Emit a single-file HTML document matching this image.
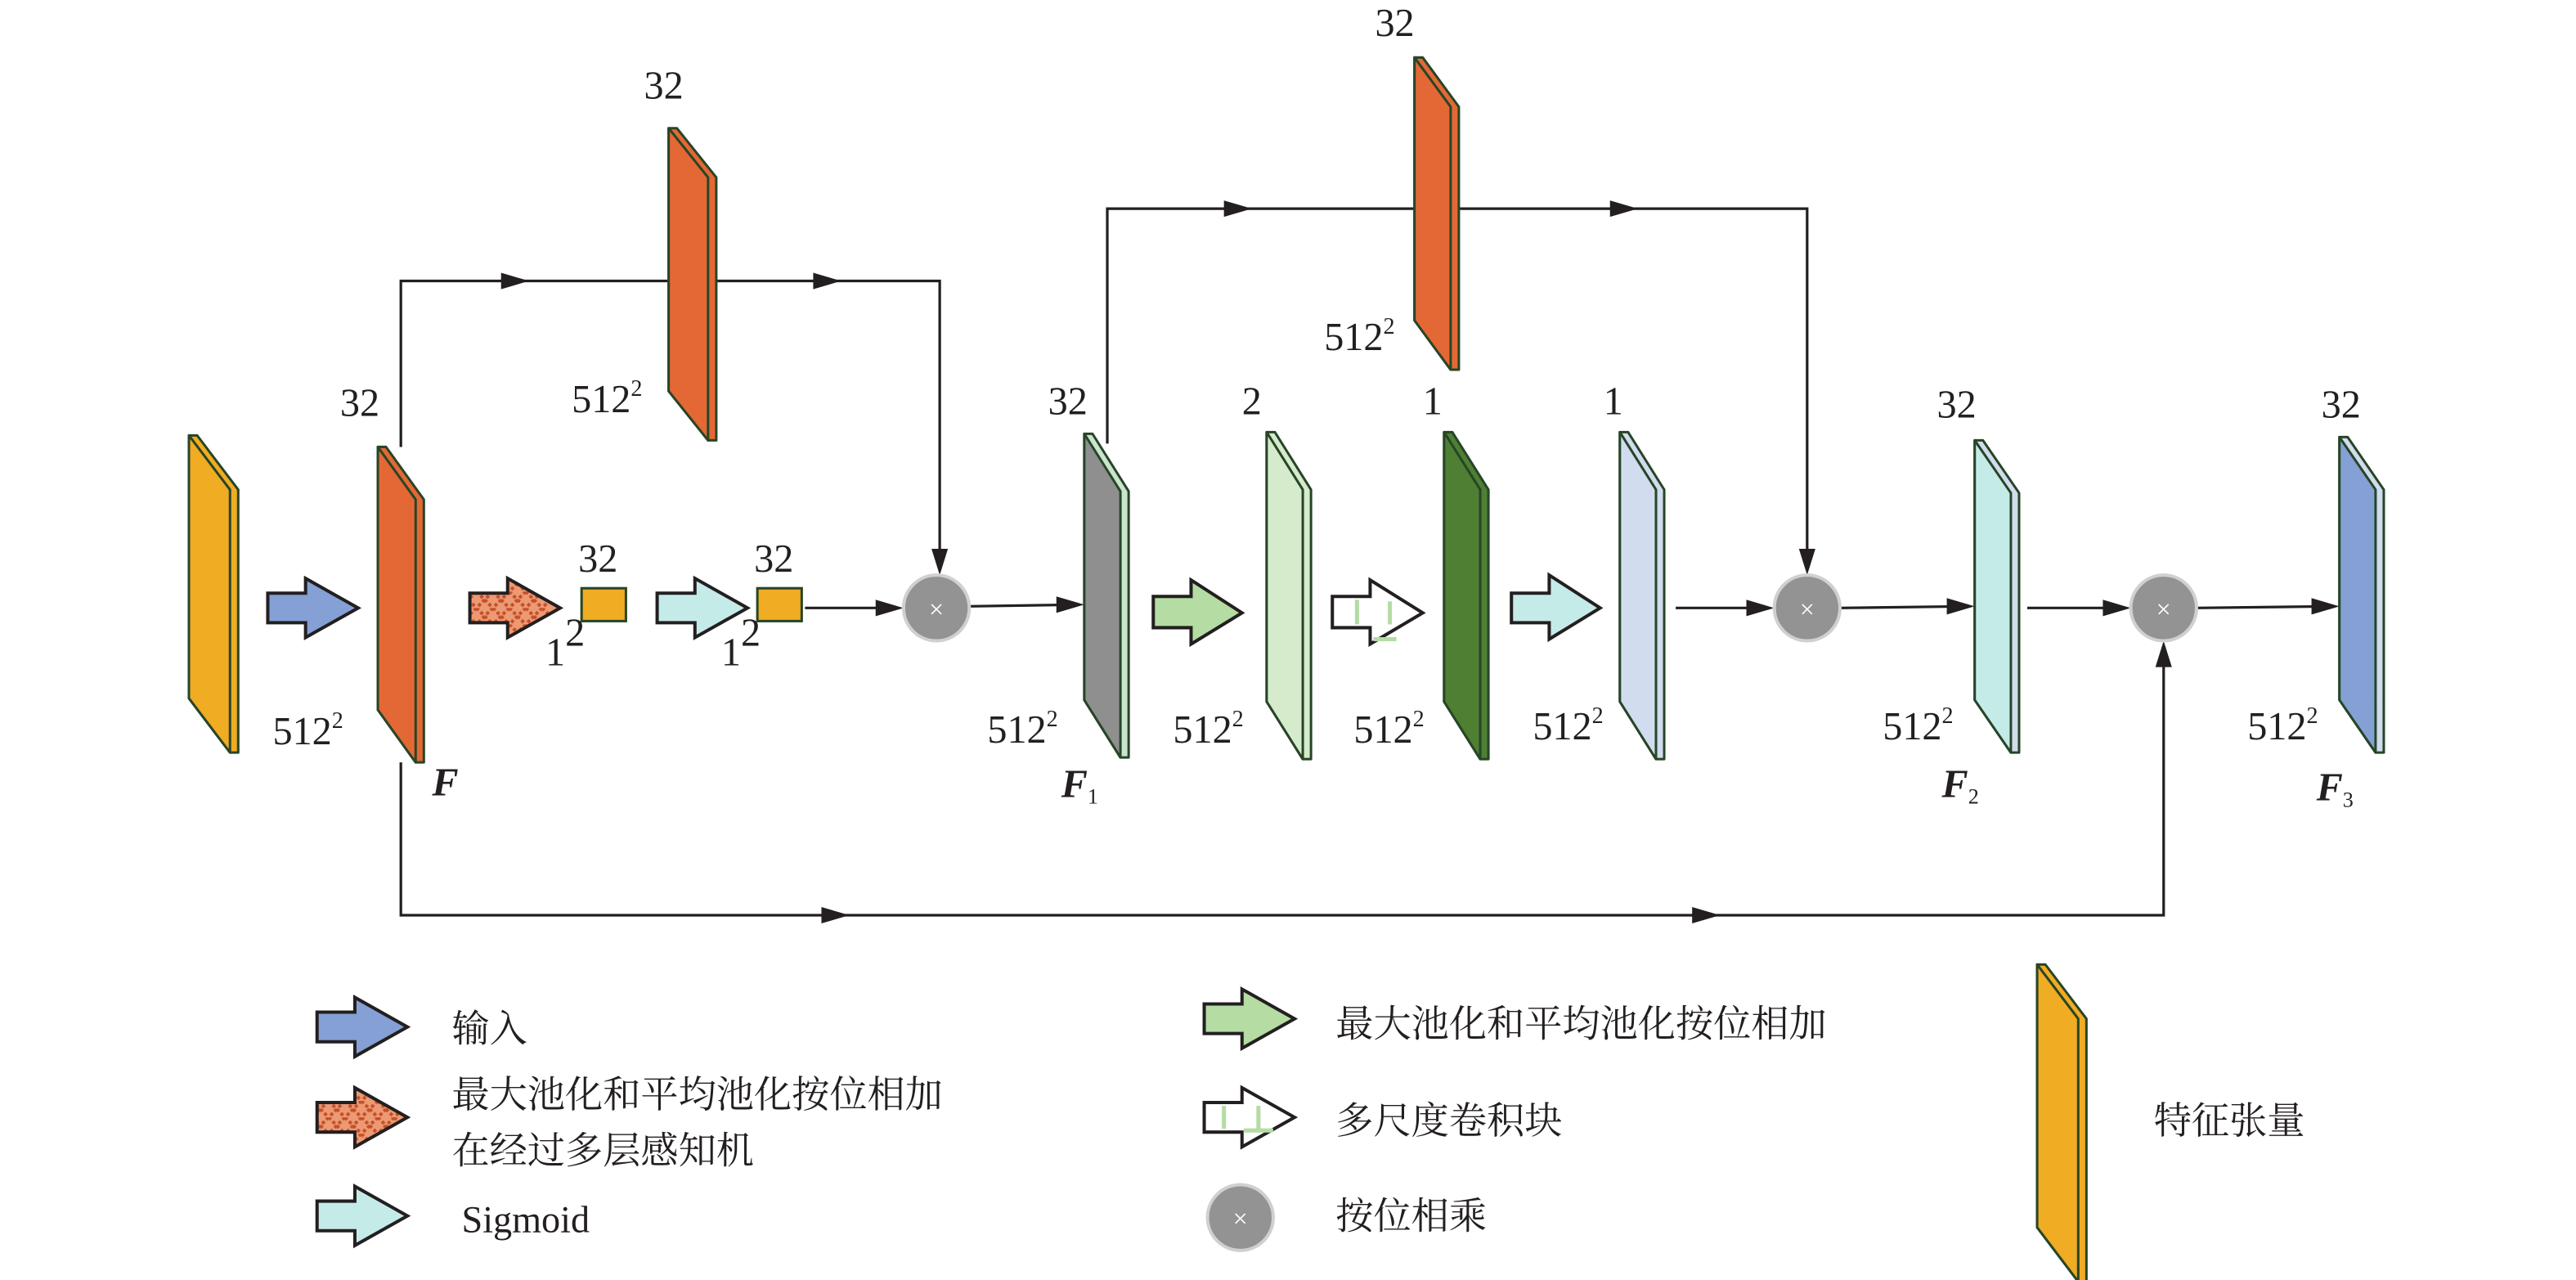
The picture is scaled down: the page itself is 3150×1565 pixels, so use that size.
<!DOCTYPE html>
<html><head><meta charset="utf-8"><style>
html,body{margin:0;padding:0;background:#fff;}
svg{display:block;}
text{font-family:"Liberation Serif","Noto Serif CJK SC",serif;fill:#231f20;}
.cn{font-family:"Liberation Serif","Noto Serif CJK SC","Noto Sans CJK SC",serif;}
</style></head><body>
<svg width="3150" height="1565" viewBox="0 0 1568 779" preserveAspectRatio="none" xmlns="http://www.w3.org/2000/svg">
<defs>
<symbol id="slab" overflow="visible">
</symbol>
<pattern id="hatch" width="10" height="10" patternUnits="userSpaceOnUse">
<rect width="10" height="10" fill="#ec9a73"/>
<path d="M0,0 L10,10 M10,0 L0,10" stroke="#c4502a" stroke-width="2" stroke-dasharray="2,1.5"/>
</pattern>
</defs>

<!-- connectors -->
<g stroke="#231f20" stroke-width="1.6" fill="none">
<polyline points="244,272 244,171 572,171 572,345"/>
<polyline points="674,270 674,127 1100,127 1100,345"/>
<polyline points="244,464 244,557 1317,557 1317,395"/>
<line x1="490" y1="370" x2="545" y2="370"/>
<line x1="590" y1="369" x2="655" y2="368"/>
<line x1="1020" y1="370" x2="1075" y2="370"/>
<line x1="1120" y1="370" x2="1197" y2="369"/>
<line x1="1234" y1="370" x2="1292" y2="370"/>
<line x1="1337" y1="370" x2="1420" y2="369"/>
</g>
<g fill="#231f20">
<polygon points="305,166 322,171 305,176"/>
<polygon points="495,166 512,171 495,176"/>
<polygon points="567,334 572,350 577,334"/>
<polygon points="745,122 762,127 745,132"/>
<polygon points="980,122 997,127 980,132"/>
<polygon points="1095,334 1100,350 1105,334"/>
<polygon points="500,552 517,557 500,562"/>
<polygon points="1030,552 1047,557 1030,562"/>
<polygon points="1312,406 1317,390 1322,406"/>
<polygon points="533,365 550,370 533,375"/>
<polygon points="643,363 660,368 643,373"/>
<polygon points="1063,365 1080,370 1063,375"/>
<polygon points="1185,364 1202,369 1185,374"/>
<polygon points="1280,365 1297,370 1280,375"/>
<polygon points="1407,364 1424,369 1407,374"/>
</g>

<!-- slabs -->
<g stroke="#274527" stroke-width="1.5" stroke-linejoin="round">
<g transform="translate(115,265)"><polygon points="0,0 5,0 30,33 30,193 25,193 0,160" fill="#f0ac22"/><polygon points="0,0 25,33 25,193 0,160" fill="#f0ac22"/></g>
<g transform="translate(230,272)"><polygon points="0,0 5,0 28,32 28,192 23,192 0,160" fill="#e46835"/><polygon points="0,0 23,32 23,192 0,160" fill="#e46835"/></g>
<g transform="translate(407,78)"><polygon points="0,0 5,0 29,30 29,190 24,190 0,160" fill="#e46835"/><polygon points="0,0 24,30 24,190 0,160" fill="#e46835"/></g>
<g transform="translate(861,35)"><polygon points="0,0 5,0 27,30 27,190 22,190 0,160" fill="#e46835"/><polygon points="0,0 22,30 22,190 0,160" fill="#e46835"/></g>
<g transform="translate(660,264)"><polygon points="0,0 5,0 27,35 27,197 22,197 0,162" fill="#c9e5cf"/><polygon points="0,0 22,35 22,197 0,162" fill="#8f8f8f"/></g>
<g transform="translate(771,263)"><polygon points="0,0 5,0 27,35 27,199 22,199 0,164" fill="#d5ebcb"/><polygon points="0,0 22,35 22,199 0,164" fill="#d5ebcb"/></g>
<g transform="translate(879,263)"><polygon points="0,0 5,0 27,35 27,199 22,199 0,164" fill="#4e7f33"/><polygon points="0,0 22,35 22,199 0,164" fill="#4e7f33"/></g>
<g transform="translate(986,263)"><polygon points="0,0 5,0 27,35 27,199 22,199 0,164" fill="#d1dcee"/><polygon points="0,0 22,35 22,199 0,164" fill="#d1dcee"/></g>
<g transform="translate(1202,268)"><polygon points="0,0 5,0 27,32 27,190 22,190 0,158" fill="#d1dcee"/><polygon points="0,0 22,32 22,190 0,158" fill="#c5ebe9"/></g>
<g transform="translate(1424,266)"><polygon points="0,0 5,0 27,32 27,192 22,192 0,160" fill="#d1dcee"/><polygon points="0,0 22,32 22,192 0,160" fill="#84a0d4"/></g>
<g transform="translate(1240,587)"><polygon points="0,0 5,0 30,33 30,193 25,193 0,160" fill="#f0ac22"/><polygon points="0,0 25,33 25,193 0,160" fill="#f0ac22"/></g>
</g>

<!-- small squares -->
<rect x="354" y="358" width="27" height="20" fill="#f0ac22" stroke="#274527" stroke-width="1.5"/>
<rect x="461" y="358" width="27" height="20" fill="#f0ac22" stroke="#274527" stroke-width="1.5"/>

<!-- block arrows -->
<g stroke="#231f20" stroke-width="2" stroke-linejoin="miter">
<path d="M163,361 L186,361 L186,352 L218,370 L186,388 L186,379 L163,379 Z" fill="#84a0d4"/>
<path d="M286,361 L309,361 L309,352 L341,370 L309,388 L309,379 L286,379 Z" fill="url(#hatch)"/>
<path d="M400,361 L423,361 L423,352 L455,370 L423,388 L423,379 L400,379 Z" fill="#c5ebe9"/>
<path d="M702,363 L725,363 L725,353 L756,373 L725,392 L725,382 L702,382 Z" fill="#b4dca3"/>
<path d="M811,363 L834,363 L834,353 L866,373 L834,392 L834,382 L811,382 Z" fill="#fff"/>
<path d="M920,361 L943,361 L943,350 L974,370 L943,389 L943,379 L920,379 Z" fill="#c5ebe9"/>
<path d="M193,616 L216,616 L216,607 L248,625 L216,643 L216,634 L193,634 Z" fill="#84a0d4"/>
<path d="M193,671 L216,671 L216,662 L248,680 L216,698 L216,689 L193,689 Z" fill="url(#hatch)"/>
<path d="M193,731 L216,731 L216,722 L248,740 L216,758 L216,749 L193,749 Z" fill="#c5ebe9"/>
<path d="M733,611 L756,611 L756,602 L788,620 L756,638 L756,629 L733,629 Z" fill="#b4dca3"/>
<path d="M733,671 L756,671 L756,662 L788,680 L756,698 L756,689 L733,689 Z" fill="#fff"/>
</g>
<g stroke="#b4dca3" stroke-width="2.5">
<line x1="826" y1="365" x2="826" y2="380"/><line x1="846" y1="366" x2="846" y2="380"/><line x1="836" y1="389" x2="850" y2="389"/>
<line x1="745" y1="673" x2="745" y2="687"/><line x1="766" y1="673" x2="766" y2="687"/><line x1="757" y1="688" x2="775" y2="688"/>
</g>

<!-- circles -->
<g fill="#939393" stroke="#d0d0d0" stroke-width="2">
<circle cx="570" cy="370" r="20"/><circle cx="1100" cy="370" r="20"/><circle cx="1317" cy="370" r="20"/><circle cx="755" cy="741" r="20"/>
</g>
<g fill="#fff" font-size="16" text-anchor="middle">
<text x="570" y="376" style="fill:#fff">×</text><text x="1100" y="376" style="fill:#fff">×</text><text x="1317" y="376" style="fill:#fff">×</text><text x="755" y="747" style="fill:#fff">×</text>
</g>

<!-- labels -->
<g font-size="24">
<text x="207" y="253">32</text>
<text x="392" y="60">32</text>
<text x="837" y="22">32</text>
<text x="638" y="252">32</text>
<text x="756" y="252">2</text>
<text x="866" y="252">1</text>
<text x="976" y="252">1</text>
<text x="1179" y="254">32</text>
<text x="1413" y="254">32</text>
<text x="352" y="348">32</text>
<text x="459" y="348">32</text>
<text x="332" y="405">1<tspan dy="-12">2</tspan></text>
<text x="439" y="405">1<tspan dy="-12">2</tspan></text>
<text x="166" y="453">512<tspan font-size="14" dy="-10">2</tspan></text>
<text x="348" y="251">512<tspan font-size="14" dy="-10">2</tspan></text>
<text x="806" y="213">512<tspan font-size="14" dy="-10">2</tspan></text>
<text x="601" y="452">512<tspan font-size="14" dy="-10">2</tspan></text>
<text x="714" y="452">512<tspan font-size="14" dy="-10">2</tspan></text>
<text x="824" y="452">512<tspan font-size="14" dy="-10">2</tspan></text>
<text x="933" y="450">512<tspan font-size="14" dy="-10">2</tspan></text>
<text x="1146" y="450">512<tspan font-size="14" dy="-10">2</tspan></text>
<text x="1368" y="450">512<tspan font-size="14" dy="-10">2</tspan></text>
<text x="263" y="484" font-style="italic" font-weight="bold">F</text>
<text x="646" y="485" font-style="italic" font-weight="bold">F<tspan font-size="13" font-style="normal" font-weight="normal" dy="4">1</tspan></text>
<text x="1182" y="485" font-style="italic" font-weight="bold">F<tspan font-size="13" font-style="normal" font-weight="normal" dy="4">2</tspan></text>
<text x="1410" y="487" font-style="italic" font-weight="bold">F<tspan font-size="13" font-style="normal" font-weight="normal" dy="4">3</tspan></text>
</g>
<g font-size="23" class="cn">
<text class="cn" x="275" y="634">输入</text>
<text class="cn" x="275" y="674">最大池化和平均池化按位相加</text>
<text class="cn" x="275" y="708">在经过多层感知机</text>
<text x="281" y="750">Sigmoid</text>
<text class="cn" x="813" y="631">最大池化和平均池化按位相加</text>
<text class="cn" x="813" y="690">多尺度卷积块</text>
<text class="cn" x="813" y="748">按位相乘</text>
<text class="cn" x="1311" y="690">特征张量</text>
</g>
</svg>
</body></html>
